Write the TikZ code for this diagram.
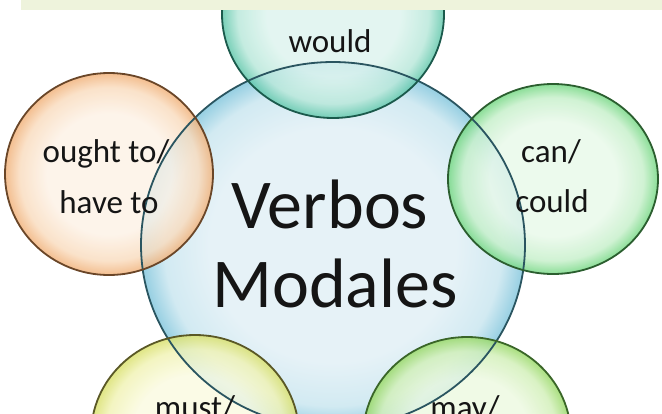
\documentclass[tikz,border=0pt]{standalone}
\usepackage{fontspec}
\setmainfont{Carlito}
\usetikzlibrary{shapes.geometric}
\definecolor{bandC}{HTML}{EEF3DC}
\definecolor{txtC}{HTML}{151515}
\definecolor{cenIn}{HTML}{E6F2F7}\definecolor{cenMid}{HTML}{D2EAF2}\definecolor{cenOut}{HTML}{96CFE2}\definecolor{cenLine}{HTML}{2A5560}
\definecolor{wouIn}{HTML}{DDF4EE}\definecolor{wouMid}{HTML}{B8E8DA}\definecolor{wouOut}{HTML}{5CC6A9}\definecolor{wouLine}{HTML}{1B5A4C}
\definecolor{oraIn}{HTML}{FDF2E6}\definecolor{oraMid}{HTML}{FADCBE}\definecolor{oraOut}{HTML}{F1B077}\definecolor{oraLine}{HTML}{6A4628}
\definecolor{greIn}{HTML}{E9F9EA}\definecolor{greMid}{HTML}{C6F0CA}\definecolor{greOut}{HTML}{72D781}\definecolor{greLine}{HTML}{2B5E2F}
\definecolor{musIn}{HTML}{FBFBE1}\definecolor{musMid}{HTML}{F1F3B4}\definecolor{musOut}{HTML}{D9E06A}\definecolor{musLine}{HTML}{5A5826}
\definecolor{mayIn}{HTML}{EDF9E1}\definecolor{mayMid}{HTML}{D2F0B8}\definecolor{mayOut}{HTML}{97D864}\definecolor{mayLine}{HTML}{3A6628}
\pgfdeclareradialshading{shcen}{\pgfpointorigin}{color(0bp)=(cenIn); color(16bp)=(cenIn); color(22bp)=(cenMid); color(25bp)=(cenOut); color(50bp)=(cenOut)}
\pgfdeclareradialshading{shwou}{\pgfpointorigin}{color(0bp)=(wouIn); color(15bp)=(wouIn); color(21.5bp)=(wouMid); color(25bp)=(wouOut); color(50bp)=(wouOut)}
\pgfdeclareradialshading{shora}{\pgfpointorigin}{color(0bp)=(oraIn); color(15bp)=(oraIn); color(21.5bp)=(oraMid); color(25bp)=(oraOut); color(50bp)=(oraOut)}
\pgfdeclareradialshading{shgre}{\pgfpointorigin}{color(0bp)=(greIn); color(15bp)=(greIn); color(21.5bp)=(greMid); color(25bp)=(greOut); color(50bp)=(greOut)}
\pgfdeclareradialshading{shmus}{\pgfpointorigin}{color(0bp)=(musIn); color(15bp)=(musIn); color(21.5bp)=(musMid); color(25bp)=(musOut); color(50bp)=(musOut)}
\pgfdeclareradialshading{shmay}{\pgfpointorigin}{color(0bp)=(mayIn); color(15bp)=(mayIn); color(21.5bp)=(mayMid); color(25bp)=(mayOut); color(50bp)=(mayOut)}
\tikzset{
  bubble/.style={ellipse, inner sep=0pt, outer sep=0pt},
  satfill/.style={bubble, fill opacity=0.82},
  rim/.style={bubble, draw=#1, line width=1.8pt},
  lbl/.style={text=txtC, inner sep=0pt, font=\fontsize{33}{40}\selectfont, anchor=base},
  biglbl/.style={text=txtC, inner sep=0pt, font=\fontsize{70}{84}\selectfont, anchor=base}
}
\begin{document}
\begin{tikzpicture}[x=1pt,y=-1pt]
\useasboundingbox (0,0) rectangle (662,413);
\clip (0,0) rectangle (662,413);
\fill[white] (0,0) rectangle (662,413);
% central bubble
\node[bubble, shading=shcen, minimum width=384pt, minimum height=366pt] (cen) at (333,245) {};
% satellites
\node[satfill, shading=shwou, minimum width=222pt, minimum height=208pt] (wou) at (333,14) {};
\node[satfill, shading=shora, minimum width=208pt, minimum height=202pt] (ora) at (109,174) {};
\node[satfill, shading=shgre, minimum width=210pt, minimum height=190pt] (gre) at (553,179) {};
\node[satfill, shading=shmus, minimum width=208pt, minimum height=200pt] (mus) at (195,435) {};
\node[satfill, shading=shmay, minimum width=208pt, minimum height=200pt] (may) at (467,437) {};
% outlines
\node[rim=cenLine, minimum width=384pt, minimum height=366pt] (cenR) at (cen) {};
\node[rim=wouLine, minimum width=222pt, minimum height=208pt] (wouR) at (wou) {};
\node[rim=oraLine, minimum width=208pt, minimum height=202pt] (oraR) at (ora) {};
\node[rim=greLine, minimum width=210pt, minimum height=190pt] (greR) at (gre) {};
\node[rim=musLine, minimum width=208pt, minimum height=200pt] (musR) at (mus) {};
\node[rim=mayLine, minimum width=208pt, minimum height=200pt] (mayR) at (may) {};
% top band
\fill[bandC] (21,0) rectangle (662,9.5);
% labels
\node[lbl] (twou) at (330,52) {would};
\node[lbl] (tora1) at (106,162) {ought to/};
\node[lbl] (tora2) at (109,213) {have to};
\node[lbl] (tgre1) at (551,162) {can/};
\node[lbl] (tgre2) at (552,212) {could};
\node[lbl] (tmus) at (195,418) {must/};
\node[lbl] (tmay) at (465,418) {may/};
\node[biglbl] (tcen1) at (330,228) {Verbos};
\node[biglbl] (tcen2) at (335,307) {Modales};
\end{tikzpicture}
\end{document}
